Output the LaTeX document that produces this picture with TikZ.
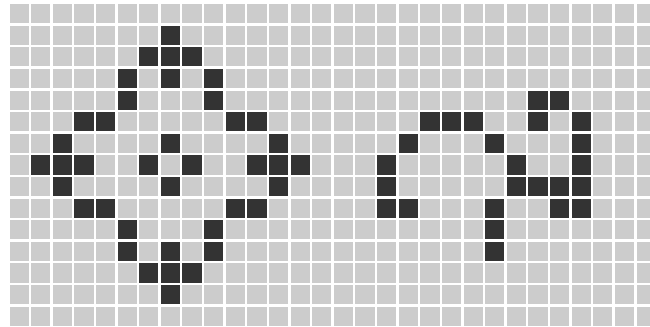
\documentclass[tikz,border=0pt]{standalone}
\usepackage{xcolor}
\definecolor{deadgrey}{HTML}{CCCCCC}
\definecolor{liveink}{HTML}{333333}
\usepackage{tikz}
\tikzset{
  cell/.style={fill=deadgrey, draw=white, line width=1.6pt},
  livecell/.style={cell, fill=liveink},
}

\begin{document}
\begin{tikzpicture}[x=0.5cm, y=-0.5cm]
  \useasboundingbox[fill=white] (-0.384,-0.13) rectangle (29.68,14.95);
  \clip (-0.384,-0.13) rectangle (29.68,14.95);
  % board
  \foreach \c in {0,...,29}
    \foreach \r in {0,...,14}
      \path[cell] (\c,\r) rectangle ++(1,1);
  % left pattern
  \foreach \c/\r in {7/1, 6/2,7/2,8/2, 5/3,7/3,9/3, 5/4,9/4,
      3/5,4/5,10/5,11/5, 2/6,7/6,12/6,
      1/7,2/7,3/7,6/7,8/7,11/7,12/7,13/7,
      2/8,7/8,12/8, 3/9,4/9,10/9,11/9, 5/10,9/10,
      5/11,7/11,9/11, 6/12,7/12,8/12, 7/13}
    \path[livecell] (\c,\r) rectangle ++(1,1);
  % right pattern
  \foreach \c/\r in {24/4,25/4, 19/5,20/5,21/5,24/5,26/5,
      18/6,22/6,26/6, 17/7,23/7,26/7,
      17/8,23/8,24/8,25/8,26/8, 17/9,18/9,22/9,25/9,26/9,
      22/10, 22/11}
    \path[livecell] (\c,\r) rectangle ++(1,1);
\end{tikzpicture}
\end{document}
